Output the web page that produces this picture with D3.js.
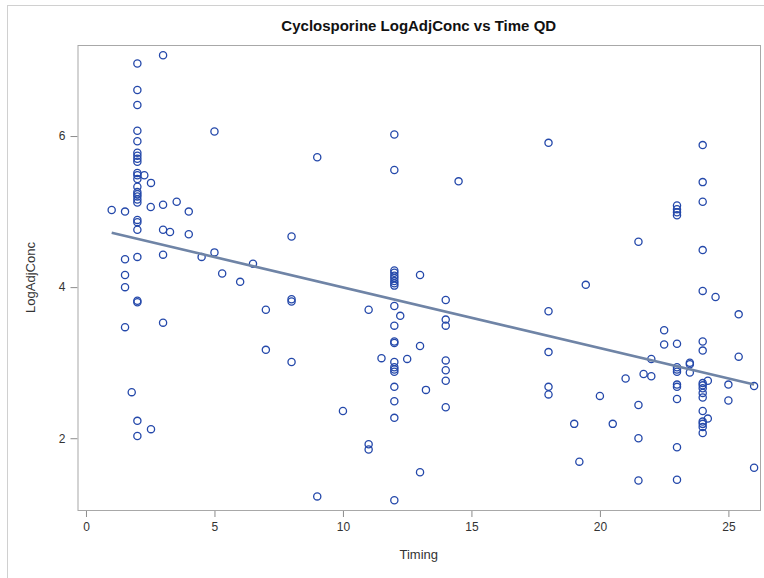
<!DOCTYPE html>
<html>
<head>
<meta charset="utf-8">
<script src="https://cdn.jsdelivr.net/npm/d3@7"></script>
<style>
  body { margin: 0; background: #fff; }
  text { font-family: "Liberation Sans", Arial, sans-serif; }
</style>
</head>
<body>
<div id="chart"></div>
<script>
// Chart data
var timing = [
  3,
  2, 2, 2, 2, 2, 2, 2, 2, 2, 2, 2, 2, 2, 2, 2, 2, 2, 2, 2, 2, 2, 2, 2, 2, 2, 2,
  2.27, 2.53, 1, 1.52, 1.52, 1.52, 1.52, 1.52, 2.52,
  3, 3, 3, 3, 3.53, 4, 4, 3.27, 4.5, 5, 5, 1.78, 2.53,
  9, 9, 8, 8, 8, 8, 6.5, 5.3, 6, 7, 7, 10,
  12, 12, 12, 12, 12, 12, 12, 12, 12, 12, 12, 12, 12, 12, 12, 12, 12, 12, 12, 12, 12,
  14.5, 13, 13, 13, 11, 11, 11, 12.23,
  14, 14, 14, 14, 14, 14, 14, 11.5, 12.5, 13.23,
  18, 18, 18, 18, 18, 19.45, 21, 20, 19, 20.5, 19.2,
  24, 24, 24, 24, 24, 24, 24, 24, 24, 24, 24, 24, 24, 24, 24, 24, 24,
  21.5, 21.5, 21.5, 21.5,
  23, 23, 23, 23, 23, 23, 23, 23, 23, 23, 23, 23, 23,
  24.5, 25.4, 25.4, 22.5, 22.5, 22, 22, 23.5, 23.5, 23.5, 21.7, 24.2, 24.2, 25, 25, 26, 26
];
var logAdjConc = [
  7.07,
  6.96, 6.61, 6.41, 6.07, 5.93, 5.78, 5.74, 5.70, 5.66, 5.51, 5.48, 5.43, 5.33, 5.26, 5.23, 5.20, 5.16, 5.12, 4.89, 4.86, 4.76, 4.40, 3.82, 3.80, 2.23, 2.03,
  5.48, 5.38, 5.02, 5.00, 4.37, 4.16, 4.00, 3.47, 5.06,
  5.09, 4.76, 4.43, 3.53, 5.13, 5.00, 4.70, 4.73, 4.40, 6.06, 4.46, 2.61, 2.12,
  5.72, 1.23, 4.67, 3.84, 3.81, 3.01, 4.31, 4.18, 4.07, 3.70, 3.17, 2.36,
  6.02, 5.55, 4.22, 4.19, 4.15, 4.12, 4.08, 4.05, 4.02, 3.75, 3.49, 3.28, 3.26, 3.01, 2.94, 2.91, 2.88, 2.68, 2.49, 2.27, 1.18,
  5.40, 4.16, 3.22, 1.55, 3.70, 1.92, 1.85, 3.62,
  3.83, 3.57, 3.49, 3.03, 2.90, 2.76, 2.41, 3.06, 3.05, 2.64,
  5.91, 3.68, 3.14, 2.68, 2.58, 4.03, 2.79, 2.56, 2.19, 2.19, 1.69,
  5.88, 5.39, 5.13, 4.49, 3.95, 3.28, 3.16, 2.73, 2.70, 2.66, 2.60, 2.54, 2.36, 2.22, 2.19, 2.15, 2.07,
  4.60, 2.44, 2.00, 1.44,
  5.08, 5.03, 4.99, 4.95, 3.25, 2.94, 2.91, 2.88, 2.71, 2.68, 2.52, 1.88, 1.45,
  3.87, 3.64, 3.08, 3.43, 3.24, 3.05, 2.82, 3.00, 2.98, 2.87, 2.85, 2.76, 2.26, 2.71, 2.50, 2.69, 1.61
];
// regression fit line end points
var fitX = [1, 26];
var fitY = [4.72, 2.71];

var xTicks = [0, 5, 10, 15, 20, 25];
var yTicks = [2, 4, 6];

// Chart Parameters
var svgWidth = 764;
var svgHeight = 578;
var margin = { top: 45, right: 4, bottom: 68, left: 77.5 };
var width = svgWidth - margin.left - margin.right;
var height = svgHeight - margin.top - margin.bottom;

var svg = d3.select("#chart").append("svg")
  .attr("width", svgWidth)
  .attr("height", svgHeight);

// outer border
svg.append("rect")
  .attr("x", 7.5).attr("y", 5.5)
  .attr("width", svgWidth).attr("height", svgHeight)
  .attr("fill", "none").attr("stroke", "#d0d0d0");

var chartGroup = svg.append("g")
  .attr("transform", `translate(${margin.left}, ${margin.top})`);

var xScale = d3.scaleLinear().domain([-0.33, 26.23]).range([0, width]);
var yScale = d3.scaleLinear().domain([1.05, 7.205]).range([height, 0]);

// axes
var bottomAxis = d3.axisBottom(xScale).tickValues(xTicks).tickFormat(d3.format("d")).tickSize(7).tickPadding(5);
var leftAxis = d3.axisLeft(yScale).tickValues(yTicks).tickFormat(d3.format("d")).tickSize(7).tickPadding(5);

var xAxis = chartGroup.append("g")
  .attr("transform", `translate(0, ${height})`)
  .call(bottomAxis);
var yAxis = chartGroup.append("g").call(leftAxis);

[xAxis, yAxis].forEach(function(ax) {
  ax.select(".domain").remove();
  ax.selectAll("line").attr("stroke", "#8c8c8c");
  ax.selectAll("text")
    .attr("fill", "#333")
    .style("font-size", "12px")
    .style("font-family", "'Liberation Sans', Arial, sans-serif");
});

// frame
chartGroup.append("rect")
  .attr("x", 0.5).attr("y", 0.5)
  .attr("width", width).attr("height", height)
  .attr("fill", "none").attr("stroke", "#a8a8a8");

// points
chartGroup.selectAll("circle")
  .data(timing)
  .enter()
  .append("circle")
  .attr("cx", d => xScale(d))
  .attr("cy", (d, i) => yScale(logAdjConc[i]))
  .attr("r", 3.6)
  .attr("fill", "none")
  .attr("stroke", "#2448aa")
  .attr("stroke-width", 1.3);

// fit line
var line = d3.line()
  .x(d => xScale(d))
  .y((d, i) => yScale(fitY[i]));
chartGroup.append("path")
  .datum(fitX)
  .attr("d", line)
  .attr("fill", "none")
  .attr("stroke", "#6f84a6")
  .attr("stroke-width", 2.6);

// title and labels
svg.append("text")
  .attr("x", margin.left + width / 2)
  .attr("y", 31)
  .attr("text-anchor", "middle")
  .style("font-size", "15px")
  .style("font-weight", "bold")
  .attr("fill", "#111")
  .text("Cyclosporine LogAdjConc vs Time QD");

svg.append("text")
  .attr("x", margin.left + width / 2)
  .attr("y", 559)
  .attr("text-anchor", "middle")
  .style("font-size", "13px")
  .attr("fill", "#333")
  .text("Timing");

svg.append("text")
  .attr("transform", `translate(35, ${margin.top + height / 2}) rotate(-90)`)
  .attr("text-anchor", "middle")
  .style("font-size", "13px")
  .attr("fill", "#333")
  .text("LogAdjConc");
</script>
</body>
</html>
